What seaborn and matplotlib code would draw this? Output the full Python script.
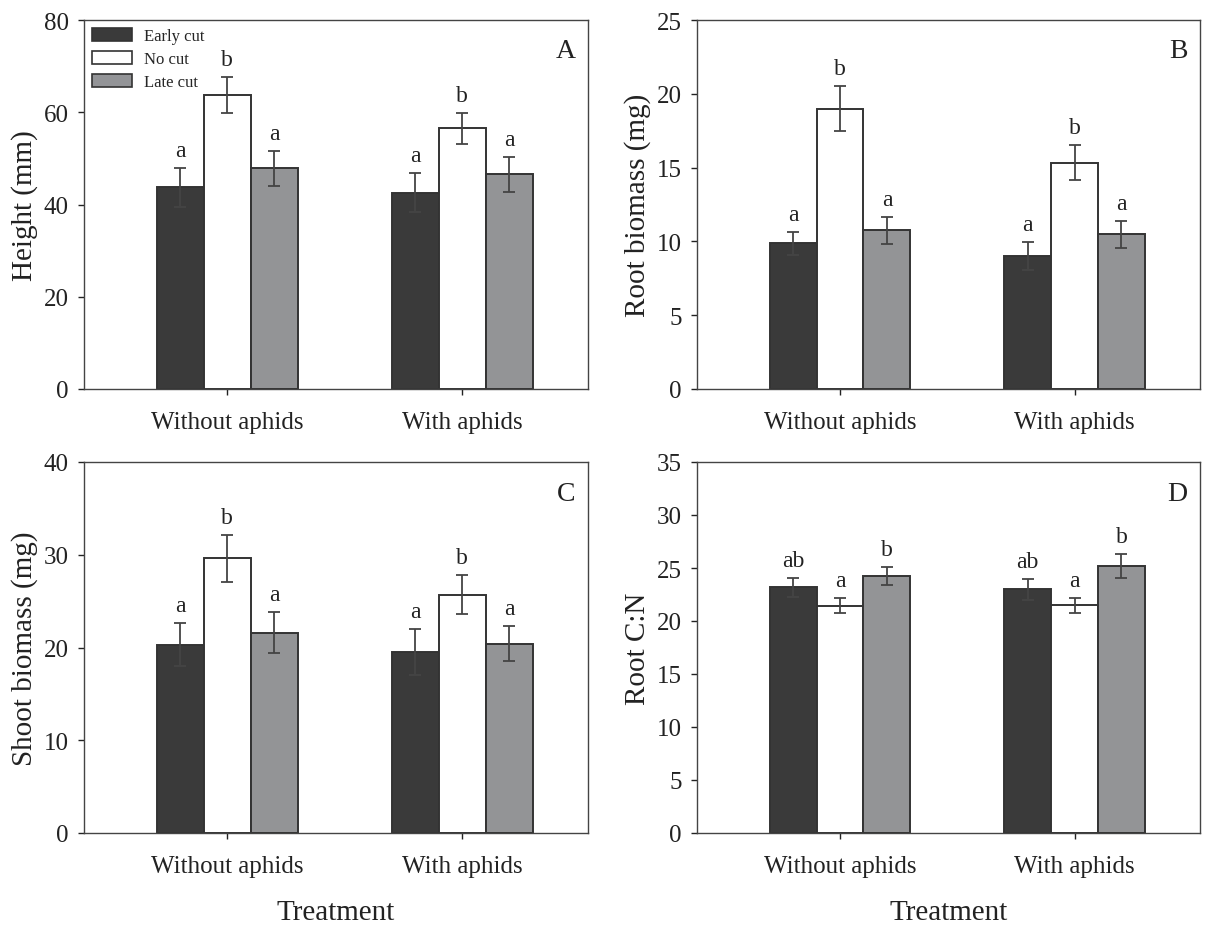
import numpy as np
import pandas as pd
import matplotlib
matplotlib.use("Agg")
import matplotlib.pyplot as plt
import seaborn as sns
from matplotlib.patches import Patch

sns.set_style("ticks")
plt.rcParams['font.family'] = ['Liberation Serif', 'DejaVu Serif']

# data
treatments = ["Without aphids", "With aphids"]
cuts = ["Early cut", "No cut", "Late cut"]

height_mean = [[43.7, 63.7, 47.9], [42.6, 56.5, 46.6]]
height_se = [[4.2, 3.9, 3.8], [4.2, 3.3, 3.8]]
height_letters = [["a", "b", "a"], ["a", "b", "a"]]

root_mean = [[9.87, 19.0, 10.75], [9.0, 15.33, 10.48]]
root_se = [[0.8, 1.5, 0.9], [0.95, 1.2, 0.9]]
root_letters = [["a", "b", "a"], ["a", "b", "a"]]

shoot_mean = [[20.3, 29.6, 21.6], [19.5, 25.7, 20.4]]
shoot_se = [[2.3, 2.5, 2.2], [2.5, 2.1, 1.9]]
shoot_letters = [["a", "b", "a"], ["a", "b", "a"]]

cn_mean = [[23.2, 21.45, 24.25], [23.0, 21.5, 25.2]]
cn_se = [[0.9, 0.7, 0.85], [1.0, 0.7, 1.15]]
cn_letters = [["ab", "a", "b"], ["ab", "a", "b"]]

colors = {"Early cut": "#3a3a3a", "No cut": "#ffffff", "Late cut": "#939497"}
edge = "#333333"

panels = [
    ("A", "Height (mm)", height_mean, height_se, height_letters, 80, 20),
    ("B", "Root biomass (mg)", root_mean, root_se, root_letters, 25, 5),
    ("C", "Shoot biomass (mg)", shoot_mean, shoot_se, shoot_letters, 40, 10),
    ("D", "Root C:N", cn_mean, cn_se, cn_letters, 35, 5),
]

W, H = 1210, 929
fig = plt.figure(figsize=(12.1, 9.29), dpi=100)
boxes = {
    "A": (84, 21, 588, 390),
    "B": (697, 21, 1200, 390),
    "C": (84, 463, 588, 834),
    "D": (697, 463, 1200, 834),
}

for letter, ylabel, means, ses, lets, ymax, ystep in panels:
    x0, y0, x1, y1 = boxes[letter]
    ax = fig.add_axes([x0 / W, 1 - y1 / H, (x1 - x0) / W, (y1 - y0) / H])
    rows = []
    for i, t in enumerate(treatments):
        for j, c in enumerate(cuts):
            rows.append({"Treatment": t, "Cut": c, "value": means[i][j],
                         "se": ses[i][j], "letter": lets[i][j]})
    df = pd.DataFrame(rows)
    sns.barplot(data=df, x="Treatment", y="value", hue="Cut", order=treatments,
                hue_order=cuts, palette=colors, width=0.6, gap=0,
                errorbar=None, edgecolor=edge, linewidth=1.4, legend=False, ax=ax)

    for j, c in enumerate(cuts):
        cont = ax.containers[j]
        for i, bar in enumerate(cont):
            row = df[(df.Treatment == treatments[i]) & (df.Cut == c)].iloc[0]
            xc = bar.get_x() + bar.get_width() / 2
            ax.errorbar(xc, row.value, yerr=row.se, fmt="none", ecolor="#444444",
                        elinewidth=1.3, capsize=4, capthick=1.3, zorder=5)
            ax.annotate(row.letter, (xc, row.value + row.se), xytext=(0, 5),
                        textcoords="offset points", ha="center", va="bottom",
                        fontsize=17, color="#222222")

    ax.set_xlim(-0.61, 1.535)
    ax.set_ylim(0, ymax)
    ax.set_yticks(np.arange(0, ymax + 0.1, ystep))
    ax.set_ylabel(ylabel, fontsize=21, color="#222222", labelpad=4)
    if letter in ("C", "D"):
        ax.set_xlabel("Treatment", fontsize=21, color="#222222", labelpad=16)
    else:
        ax.set_xlabel("")
    ax.tick_params(axis="both", labelsize=18, colors="#222222", length=4, width=1)
    ax.tick_params(axis="x", pad=12)
    ax.tick_params(axis="y", pad=7)
    for s in ax.spines.values():
        s.set_color("#444444")
        s.set_linewidth(1.0)
    ax.text(0.975, 0.95, letter, transform=ax.transAxes, ha="right", va="top",
            fontsize=20, color="#222222")

    if letter == "A":
        handles = [Patch(facecolor=colors[c], edgecolor=edge, linewidth=1.2, label=c)
                   for c in cuts]
        ax.legend(handles=handles, loc="upper left", frameon=False, fontsize=12,
                  handlelength=2.4, handleheight=0.75, borderaxespad=0.1,
                  labelspacing=0.42, handletextpad=0.7, bbox_to_anchor=(0.0, 1.0))

fig.savefig("out.png", dpi=100)
